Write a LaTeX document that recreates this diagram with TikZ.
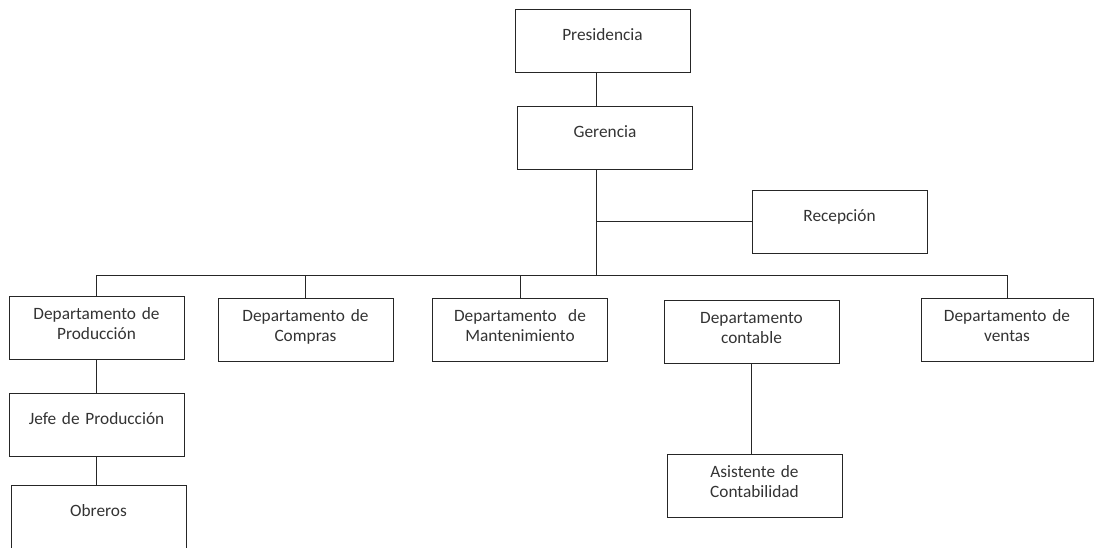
\documentclass[tikz,border=0pt]{standalone}
\usepackage{fontspec}
\setmainfont{Carlito}
\usetikzlibrary{calc,positioning}

\begin{document}
\begin{tikzpicture}[x=1pt,y=-1pt,
    caja/.style={draw=black!85,line width=1pt,inner sep=0pt,text width=175pt,
      align=center,text=black!80,font=\fontsize{17.3}{20}\selectfont},
    caja1/.style={caja,text height=31pt,text depth=32pt},
    caja2/.style={caja,text height=23pt,text depth=40pt},
    linea/.style={draw=black!85,line width=1pt}]
  \useasboundingbox (0,0) rectangle (1094,547);
  \node[caja1] (pres) at (602.5,41) {Presidencia};
  \node[caja1] (ger) at (605,137.5) {Gerencia};
  \node[caja1] (rec) at (839.5,221.5) {Recepción};
  \coordinate (hub) at (596,275);
  \node[caja2] (prod) at (96.5,327.5) {Departamento de\\Producción};
  \node[caja2] (comp) at (305.5,330) {Departamento de\\Compras};
  \node[caja2] (mant) at (520,330) {Departamento~ de\\Mantenimiento};
  \node[caja2] (cont) at (751.5,331.5) {Departamento\\contable};
  \node[caja2,text width=172pt] (vent) at (1007,330) {Departamento de\\ventas};
  \node[caja1] (jefe) at (96.5,425) {Jefe de Producción};
  \node[caja1] (obr) at (98.5,516.5) {Obreros};
  \node[caja2] (asis) at (754.5,486) {Asistente de\\Contabilidad};
  \draw[linea] (pres.south -| hub) -- (ger.north -| hub);
  \draw[linea] (ger.south -| hub) -- (hub);
  \draw[linea] (rec.west) -- (rec.west -| hub);
  \draw[linea] (prod.north |- hub) -- (vent.north |- hub);
  \draw[linea] (prod.north) -- (prod.north |- hub);
  \draw[linea] (comp.north) -- (comp.north |- hub);
  \draw[linea] (mant.north) -- (mant.north |- hub);
  \draw[linea] (vent.north) -- (vent.north |- hub);
  \draw[linea] (prod.south) -- (jefe.north);
  \draw[linea] (jefe.south) -- (jefe.south |- obr.north);
  \draw[linea] (cont.south) -- (cont.south |- asis.north);
\end{tikzpicture}
\end{document}
